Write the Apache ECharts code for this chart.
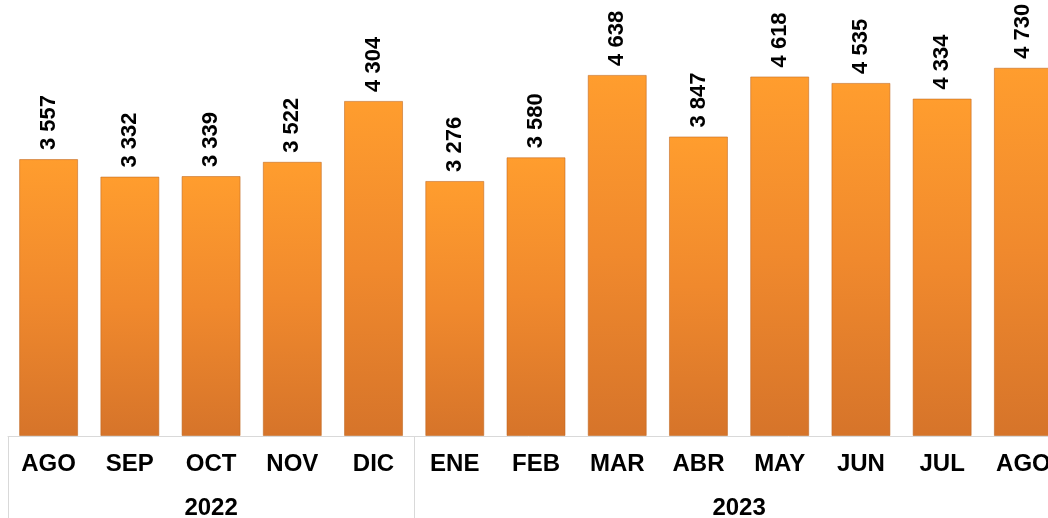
<!DOCTYPE html>
<html>
<head>
<meta charset="utf-8">
<script src="https://cdn.jsdelivr.net/npm/echarts@6/dist/echarts.min.js"></script>
<style>
  html, body { margin: 0; padding: 0; background: #fff; }
  #chart { width: 1048px; height: 518px; }
</style>
</head>
<body>
<div id="chart"></div>
<script>
// meses (eje x)
const months = ['AGO', 'SEP', 'OCT', 'NOV', 'DIC', 'ENE', 'FEB', 'MAR', 'ABR', 'MAY', 'JUN', 'JUL', 'AGO']
// valores mensuales
const values = [3557, 3332, 3339, 3522, 4304, 3276, 3580, 4638, 3847, 4618, 4535, 4334, 4730]
// grupos de años: etiqueta y número de meses
const years = ['2022', '2023']
const yearSpans = [5, 8]

const fontFamily = '"Liberation Sans", Arial, sans-serif'

// posición central de cada año y límites de grupo (en unidades de categoría)
const yearCenters = {}
const groupStarts = [0]
let acc = 0
years.forEach((y, i) => {
  yearCenters[acc + yearSpans[i] / 2] = y
  acc += yearSpans[i]
  groupStarts.push(acc)
})

function fmt(v) {
  return String(v).replace(/\B(?=(\d{3})+(?!\d))/g, ' ')
}

const chart = echarts.init(document.getElementById('chart'))
chart.setOption({
  animation: false,
  grid: { left: 8, top: 0, width: 1056, height: 436, outerBoundsMode: 'none', containLabel: false },
  xAxis: [
    {
      type: 'category',
      data: months,
      axisLine: { lineStyle: { color: '#d9d9d9', width: 1 } },
      axisTick: {
        show: true,
        length: 84,
        interval: (i) => groupStarts.indexOf(i) !== -1,
        lineStyle: { color: '#d9d9d9', width: 1 }
      },
      axisLabel: {
        interval: 0,
        margin: 16,
        color: '#000',
        fontSize: 24,
        fontWeight: 'bold',
        fontFamily: fontFamily
      }
    },
    {
      type: 'value',
      position: 'bottom',
      min: 0,
      max: months.length,
      interval: 0.5,
      axisLine: { show: false },
      axisTick: { show: false },
      splitLine: { show: false },
      axisLabel: {
        margin: 60,
        color: '#000',
        fontSize: 24,
        fontWeight: 'bold',
        fontFamily: fontFamily,
        formatter: (v) => yearCenters[v] || ''
      }
    }
  ],
  yAxis: {
    type: 'value',
    min: 0,
    max: 5600,
    show: false,
    splitLine: { show: false }
  },
  series: [
    {
      type: 'bar',
      xAxisIndex: 0,
      data: values,
      barWidth: 59,
      itemStyle: {
        color: new echarts.graphic.LinearGradient(0, 0, 0, 1, [
          { offset: 0, color: '#FF9D2E' },
          { offset: 0.5, color: '#F0892D' },
          { offset: 1, color: '#D6742A' }
        ]),
        borderColor: 'rgba(190, 100, 30, 0.55)',
        borderWidth: 1
      },
      label: {
        show: true,
        position: 'top',
        rotate: 90,
        align: 'left',
        verticalAlign: 'middle',
        distance: 9,
        color: '#000',
        fontSize: 22,
        fontWeight: 'bold',
        fontFamily: fontFamily,
        formatter: (p) => fmt(p.value)
      }
    }
  ]
})
</script>
</body>
</html>
